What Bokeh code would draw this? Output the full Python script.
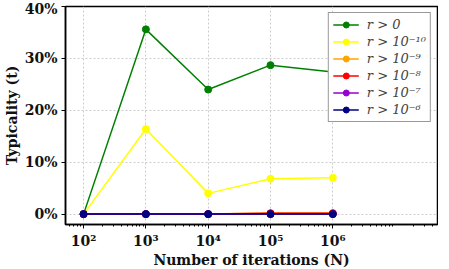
from bokeh.plotting import figure
from bokeh.models import Range1d, FixedTicker, PrintfTickFormatter, Legend
from bokeh.embed import file_html
from bokeh.resources import INLINE

iterations = [1e2, 1e3, 1e4, 1e5, 1e6]
series_labels = ["r > 0", "r > 10⁻¹⁰", "r > 10⁻⁹", "r > 10⁻⁸", "r > 10⁻⁷", "r > 10⁻⁶"]
r_gt_0 = [0.0, 35.6, 24.0, 28.7, 27.4]
r_gt_1e10 = [0.0, 16.4, 4.0, 6.8, 7.0]
r_gt_1e9 = [0.0, 0.0, 0.0, 0.2, 0.2]
r_gt_1e8 = [0.0, 0.0, 0.0, 0.15, 0.15]
r_gt_1e7 = [0.0, 0.0, 0.0, 0.0, 0.0]
r_gt_1e6 = [0.0, 0.0, 0.0, 0.0, 0.0]
colors = ["#008000", "#ffff00", "#ffa500", "#ff0000", "#9400d3", "#000080"]
x_ticks = [1e2, 1e3, 1e4, 1e5, 1e6]
x_tick_labels = ["10²", "10³", "10⁴", "10⁵", "10⁶"]
y_ticks = [0, 10, 20, 30, 40]

p = figure(frame_width=372, frame_height=218, x_axis_type="log", output_backend="svg",
           toolbar_location=None, x_range=Range1d(10**1.71, 10**7.68),
           y_range=Range1d(-2, 40), min_border_top=6, min_border_right=1,
           min_border_left=0, min_border_bottom=0)

serif = "DejaVu Serif"
all_series = [r_gt_0, r_gt_1e10, r_gt_1e9, r_gt_1e8, r_gt_1e7, r_gt_1e6]
items = []
for label, ys, c in zip(series_labels, all_series, colors):
    l = p.line(iterations, ys, line_color=c, line_width=1.5)
    s = p.scatter(iterations, ys, fill_color=c, line_color=c, size=7)
    items.append((label, [l, s]))

legend = Legend(items=items, location="top_right")
legend.label_text_font = serif
legend.label_text_font_style = "italic"
legend.label_text_font_size = "13px"
legend.label_height = 15
legend.glyph_height = 15
legend.glyph_width = 26
legend.spacing = 2
legend.padding = 4
legend.margin = 6
legend.label_standoff = 8
legend.border_line_color = "#333333"
legend.border_line_width = 1
legend.background_fill_alpha = 1.0
p.add_layout(legend)

minor = [m * 10**e for e in range(1, 8) for m in range(2, 10)]
p.xaxis.ticker = FixedTicker(ticks=x_ticks, minor_ticks=minor)
p.xaxis.major_label_overrides = {t: lab for t, lab in zip(x_ticks, x_tick_labels)}
p.yaxis.ticker = FixedTicker(ticks=y_ticks)
p.yaxis.formatter = PrintfTickFormatter(format="%d%%")

for ax in [p.xaxis, p.yaxis]:
    ax.major_label_text_font = serif
    ax.major_label_text_font_style = "bold"
    ax.major_label_text_font_size = "14px"
    ax.major_label_text_color = "#111111"
    ax.major_label_standoff = 4
    ax.axis_label_text_font = serif
    ax.axis_label_text_font_style = "bold"
    ax.axis_label_text_font_size = "14px"
    ax.axis_label_text_color = "#111111"
    ax.axis_line_color = "black"
    ax.axis_line_width = 1.5
    ax.major_tick_out = 4
    ax.major_tick_in = 0
    ax.minor_tick_in = 0
    ax.minor_tick_out = 2

p.yaxis.minor_tick_line_color = None
p.xaxis.axis_label = "Number of iterations (N)"
p.yaxis.axis_label = "Typicality (t)"
p.xaxis.axis_label_standoff = 0
p.yaxis.axis_label_standoff = 2

p.grid.grid_line_color = "#cccccc"
p.grid.grid_line_dash = "2 2"
p.grid.grid_line_width = 1
p.outline_line_color = "black"
p.outline_line_width = 1.5

open("out.html", "w").write(file_html(p, INLINE))
